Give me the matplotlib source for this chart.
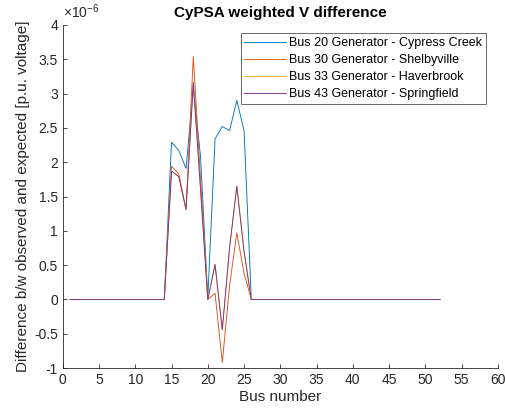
import numpy as np
import matplotlib
matplotlib.use("Agg")
import matplotlib.pyplot as plt

plt.rcParams['font.family'] = ['Liberation Sans', 'DejaVu Sans']
plt.rcParams['mathtext.fontset'] = 'custom'
plt.rcParams['mathtext.rm'] = 'Liberation Sans'
plt.rcParams['mathtext.it'] = 'Liberation Sans'

# bus numbers 1..52, values in units of 1e-6 p.u.
bus = np.arange(1, 53)
nonzero_bus = [15, 16, 17, 18, 19, 20, 21, 22, 23, 24, 25]
cypress = [2.29, 2.17, 1.91, 3.08, 2.08, 0.02, 2.34, 2.52, 2.46, 2.90, 2.46]
shelbyville = [1.94, 1.83, 1.31, 3.54, 1.75, 0.0, 0.09, -0.92, 0.2, 0.97, 0.38]
haverbrook = [1.87, 1.79, 1.31, 3.16, 1.6, 0.0, 0.51, -0.44, 0.75, 1.65, 0.7]
springfield = [1.87, 1.79, 1.31, 3.16, 1.6, 0.0, 0.51, -0.44, 0.75, 1.65, 0.7]

names = ['Bus 20 Generator - Cypress Creek', 'Bus 30 Generator - Shelbyville',
         'Bus 33 Generator - Haverbrook', 'Bus 43 Generator - Springfield']
colors = ['#0072BD', '#D95319', '#EDB120', '#7E2F8E']


def full_series(vals):
    y = np.zeros(len(bus))
    for b, v in zip(nonzero_bus, vals):
        y[b - 1] = v
    return y


fig = plt.figure(figsize=(5.06, 4.15), dpi=100)
ax = fig.add_axes([0.124, 0.113, 0.86, 0.827])

for vals, name, c in zip([cypress, shelbyville, haverbrook, springfield], names, colors):
    ax.plot(bus, full_series(vals), color=c, lw=0.65, label=name)

ax.set_xlim(0, 60)
ax.set_ylim(-1, 4)
ax.set_xticks(np.arange(0, 61, 5))
ax.set_yticks(np.arange(-1, 4.01, 0.5))
ax.set_yticklabels(['-1', '-0.5', '0', '0.5', '1', '1.5', '2', '2.5', '3', '3.5', '4'])

for s in ['top', 'right']:
    ax.spines[s].set_visible(False)
for s in ['left', 'bottom']:
    ax.spines[s].set_color('#262626')
    ax.spines[s].set_linewidth(0.6)
ax.tick_params(direction='in', length=3, width=0.6, colors='#262626', labelsize=10)

ax.set_xlabel('Bus number', fontsize=11, color='#262626', labelpad=2)
ax.set_ylabel('Difference b/w observed and expected [p.u. voltage]', fontsize=11, color='#262626', labelpad=3)
ax.set_title('CyPSA weighted V difference', fontsize=11, fontweight='bold', pad=6)
ax.text(0.0, 1.01, r'$\times10^{-6}$', transform=ax.transAxes, fontsize=10,
        color='#262626', ha='left', va='bottom')

leg = ax.legend(loc='upper right', bbox_to_anchor=(0.973, 0.975), fontsize=9, frameon=True,
                fancybox=False, edgecolor='#262626', handlelength=3.3, borderpad=0.3,
                labelspacing=0.4, handletextpad=0.3, borderaxespad=0)
leg.get_frame().set_linewidth(0.6)

fig.savefig('out.png', dpi=100)
